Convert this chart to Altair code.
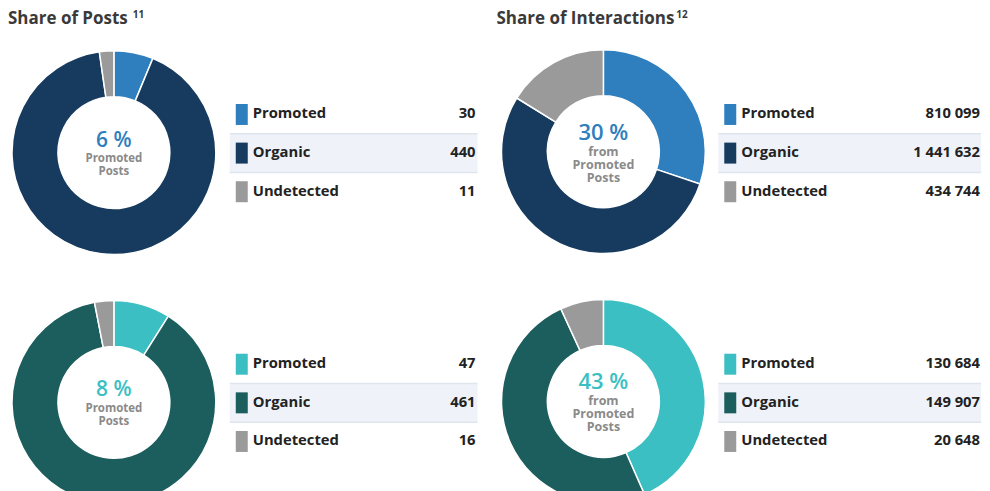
import altair as alt
import pandas as pd

categories = ["Promoted", "Organic", "Undetected"]
top_posts = [30, 440, 11]
top_interactions = [810099, 1441632, 434744]
bottom_posts = [47, 461, 16]
bottom_interactions = [130684, 149907, 20648]
center_pct = [["6 %", "30 %"], ["8 %", "43 %"]]
center_sub = ["Promoted\nPosts", "from\nPromoted\nPosts"]
titles = ["Share of Posts", "Share of Interactions"]
title_notes = ["11", "12"]

blue_colors = ["#2f7ebd", "#173b5f", "#9a9a9a"]
teal_colors = ["#3cbfc3", "#1c5e5d", "#9a9a9a"]

FONT = "Open Sans"
W = 974


def fmt(v):
    return f"{v:,}".replace(",", " ")


def panel(vals, colors, cx, cy, lx, vx, bx2, pct, pct_y, pct_size, sub, sub_y, sub_size, clip):
    df = pd.DataFrame({
        "label": categories,
        "value": vals,
        "idx": list(range(len(categories))),
        "txt": [fmt(v) for v in vals],
    })
    base = alt.Chart(df)
    yband = alt.Y("label:N", sort=categories, axis=None,
                  scale=alt.Scale(domain=categories, range=[87, 203],
                                  paddingInner=0, paddingOuter=0))
    band = base.transform_filter(alt.datum.label == "Organic").mark_rect(
        color="#eff2f9").encode(y=yband, x=alt.value(lx - 23), x2=alt.value(bx2))
    rules = base.transform_filter(alt.datum.label != "Promoted").mark_rule(
        color="#dfe5ee", strokeWidth=1.5).encode(
        y=alt.Y("label:N", sort=categories, bandPosition=0, axis=None),
        x=alt.value(lx - 23), x2=alt.value(bx2))
    bars = base.mark_bar(height=21).encode(
        y=yband, x=alt.value(lx - 17), x2=alt.value(lx - 5),
        color=alt.Color("label:N", scale=alt.Scale(domain=categories, range=colors), legend=None))
    labels = base.mark_text(align="left", baseline="middle", font=FONT, fontSize=14.8,
                            fontWeight="bold", color="#222222", x=lx).encode(
        y=yband, text="label:N")
    values = base.mark_text(align="right", baseline="middle", font=FONT, fontSize=14.8,
                            fontWeight="bold", color="#222222", x=vx).encode(
        y=yband, text="txt:N")
    arc = base.mark_arc(x=cx, y=cy, radius=102, radius2=56, stroke="white",
                        strokeWidth=1.5, clip=clip).encode(
        theta=alt.Theta("value:Q", stack=True),
        color=alt.Color("label:N", scale=alt.Scale(domain=categories, range=colors), legend=None),
        order=alt.Order("idx:Q"))
    tdf = pd.DataFrame({"pct": [pct], "sub": [sub]})
    tb = alt.Chart(tdf)
    pct_t = tb.mark_text(align="center", baseline="middle", font=FONT, fontSize=pct_size,
                         fontWeight=600, color=colors[0], x=cx, y=pct_y).encode(text="pct:N")
    sub_t = tb.mark_text(align="center", baseline="middle", font=FONT, fontSize=sub_size,
                         fontWeight="bold", color="#8a8a8a", x=cx, y=sub_y,
                         lineBreak="\n", lineHeight=13).encode(text="sub:N")
    return [band, rules, bars, labels, values, arc, pct_t, sub_t]


def row(posts, inter, colors, pcts, H, with_titles, clip):
    layers = []
    layers += panel(posts, colors, 106, 144.5, 245, 468, 470, pcts[0], 132.5, 21,
                    center_sub[0], 151, 11.5, clip)
    layers += panel(inter, colors, 596, 143.5, 734, W - 1, W, pcts[1], 124.5, 22,
                    center_sub[1], 143.5, 12.5, clip)
    if with_titles:
        for i in range(2):
            d = alt.Chart(pd.DataFrame({"t": [titles[i]], "n": [title_notes[i]]}))
            layers.append(d.mark_text(align="left", baseline="middle", font=FONT, fontSize=17,
                                      fontWeight="bold", color="#3a3a3a",
                                      x=[0, 489][i], y=11).encode(text="t:N"))
            layers.append(d.mark_text(align="left", baseline="middle", font=FONT, fontSize=10,
                                      fontWeight="bold", color="#3a3a3a",
                                      x=[125, 669][i], y=6.5).encode(text="n:N"))
    return alt.layer(*layers).resolve_scale(theta="independent").properties(width=W, height=H)


top = row(top_posts, top_interactions, blue_colors, center_pct[0], 247, True, False)
bottom = row(bottom_posts, bottom_interactions, teal_colors, center_pct[1], 236, False, True)

chart = alt.vconcat(top, bottom, spacing=0).resolve_scale(color="independent").properties(
    padding=0
).configure_view(stroke=None)

chart.save("out.html", embed_options={"renderer": "svg", "actions": False})
